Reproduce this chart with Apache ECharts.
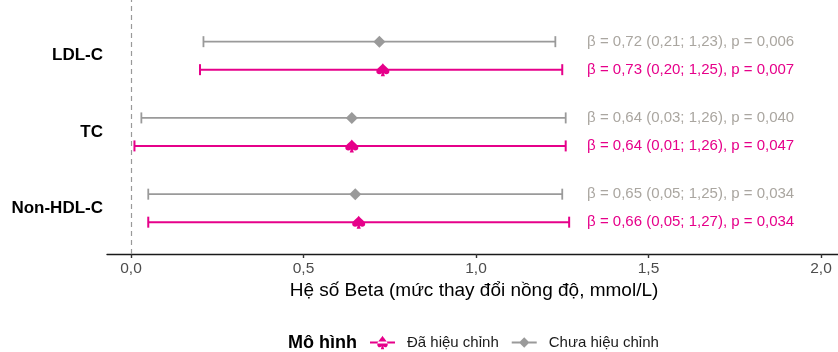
<!DOCTYPE html>
<html>
<head>
<meta charset="utf-8">
<script src="https://cdn.jsdelivr.net/npm/echarts@6/dist/echarts.min.js"></script>
<style>
  html, body { margin: 0; padding: 0; background: #fff; }
  #chart { width: 838px; height: 352px; }
</style>
</head>
<body>
<div id="chart"></div>
<script>
// Outcomes (top to bottom) and their row positions on the value y axis
const categories = ['LDL-C', 'TC', 'Non-HDL-C'];
const rowPos = [3, 2, 1];

// Adjusted model: estimate, 95% CI, p-value
const adjEst = [0.73, 0.64, 0.66];
const adjLo  = [0.20, 0.01, 0.05];
const adjHi  = [1.25, 1.26, 1.27];
const adjP   = ['0,007', '0,047', '0,034'];

// Unadjusted model
const crudeEst = [0.72, 0.64, 0.65];
const crudeLo  = [0.21, 0.03, 0.05];
const crudeHi  = [1.23, 1.26, 1.25];
const crudeP   = ['0,006', '0,040', '0,034'];

const xTicks = [0, 0.5, 1.0, 1.5, 2.0];

const PINK = '#e6008a';
const GREY_LINE = '#9a9a9a';
const GREY_TEXT = '#aaa6a0';
const LABEL_X = 1.322;   // x (in beta units) where the annotation text starts
const FONT = '"Liberation Sans", Arial, sans-serif';

const fmt = (v, d) => v.toFixed(d).replace('.', ',');

function rows(est, lo, hi, p) {
  return est.map((e, i) => [e, lo[i], hi[i], rowPos[i],
    'β = ' + fmt(e, 2) + ' (' + fmt(lo[i], 2) + '; ' + fmt(hi[i], 2) + '), p = ' + p[i]]);
}

// spade outline in a 100 x 100 box, transformed to (ox, oy) with scale (sx, sy)
function spadePath(ox, oy, sx, sy) {
  const P = (x, y) => (ox + x * sx).toFixed(1) + ' ' + (oy + y * sy).toFixed(1);
  return 'M' + P(50, 0) + ' C' + P(38, 22) + ' ' + P(0, 38) + ' ' + P(0, 64) +
    ' C' + P(0, 84) + ' ' + P(24, 92) + ' ' + P(42, 78) +
    ' L' + P(34, 100) + ' L' + P(66, 100) + ' L' + P(58, 78) +
    ' C' + P(76, 92) + ' ' + P(100, 84) + ' ' + P(100, 64) +
    ' C' + P(100, 38) + ' ' + P(62, 22) + ' ' + P(50, 0) + ' Z';
}
const SPADE = spadePath(0, 0, 1, 1);

function makeRender(color, textColor, dy, marker, lw) {
  return function (params, api) {
    const y = api.value(3);
    const c = api.coord([api.value(0), y]);
    const l = api.coord([api.value(1), y]);
    const h = api.coord([api.value(2), y]);
    const t = api.coord([LABEL_X, y]);
    const py = c[1] + dy;
    const cap = 5.5;
    const st = { stroke: color, lineWidth: lw };
    const children = [
      { type: 'line', shape: { x1: l[0], y1: py, x2: h[0], y2: py }, style: st },
      { type: 'line', shape: { x1: l[0], y1: py - cap, x2: l[0], y2: py + cap }, style: st },
      { type: 'line', shape: { x1: h[0], y1: py - cap, x2: h[0], y2: py + cap }, style: st }
    ];
    if (marker === 'spade') {
      children.push({ type: 'path', shape: { pathData: SPADE, x: c[0] - 6.5, y: py - 7.5, width: 13, height: 15 }, style: { fill: color } });
    } else {
      const r = 6;
      children.push({ type: 'polygon', shape: { points: [[c[0], py - r], [c[0] + r, py], [c[0], py + r], [c[0] - r, py]] }, style: { fill: color } });
    }
    children.push({ type: 'text', x: t[0], y: py,
      style: { text: api.value(4), fill: textColor, font: '15px ' + FONT, textVerticalAlign: 'middle', textAlign: 'left' } });
    return { type: 'group', children };
  };
}

// legend icons: a short line with the marker in the middle (240 x 130 box)
const LEG_LINE = 'M0 55 L240 55 L240 75 L0 75 Z ';
const ICON_SPADE = 'path://' + LEG_LINE + spadePath(70, 0, 1, 1.3);
const ICON_DIAMOND = 'path://' + LEG_LINE + 'M120 15 L170 65 L120 115 L70 65 Z';

const chart = echarts.init(document.getElementById('chart'), null, { renderer: 'canvas' });
chart.setOption({
  animation: false,
  backgroundColor: '#ffffff',
  grid: { left: 107, right: 0, top: 0, height: 254 },
  xAxis: {
    type: 'value', min: -0.0696, max: 2.0493,
    splitLine: { show: false },
    axisLine: { show: true, lineStyle: { color: '#1a1a1a', width: 1.4 } },
    axisTick: { show: true, customValues: xTicks, length: 4, lineStyle: { color: '#333', width: 1.4 } },
    axisLabel: { customValues: xTicks, formatter: v => fmt(v, 1), color: '#4d4d4d', fontSize: 15.5, margin: 7,
      fontFamily: FONT }
  },
  yAxis: {
    type: 'value', min: 0.399, max: 3.73,
    splitLine: { show: false },
    axisLine: { show: false }, axisTick: { show: false },
    axisLabel: { customValues: rowPos, formatter: v => categories[rowPos.indexOf(Math.round(v))] || '',
      color: '#000', fontWeight: 'bold', fontSize: 17, margin: 4, fontFamily: FONT }
  },
  legend: {
    left: 370, top: 335, padding: 0, itemWidth: 25, itemHeight: 14, itemGap: 13,
    textStyle: { fontSize: 15, color: '#1a1a1a', fontFamily: FONT, padding: [0, 0, 0, 7] },
    data: [
      { name: 'Đã hiệu chỉnh', icon: ICON_SPADE, itemStyle: { color: PINK } },
      { name: 'Chưa hiệu chỉnh', icon: ICON_DIAMOND, itemStyle: { color: GREY_LINE } }
    ]
  },
  graphic: [
    { type: 'text', x: 288, y: 343,
      style: { text: 'Mô hình', font: 'bold 18px ' + FONT, fill: '#000', textVerticalAlign: 'middle' } },
    { type: 'text', x: 474, y: 291,
      style: { text: 'Hệ số Beta (mức thay đổi nồng độ, mmol/L)', font: '19px ' + FONT, fill: '#000',
        textAlign: 'center', textVerticalAlign: 'middle' } }
  ],
  series: [
    {
      name: 'Chưa hiệu chỉnh', type: 'custom', color: GREY_LINE,
      renderItem: makeRender(GREY_LINE, GREY_TEXT, -14, 'diamond', 1.8),
      encode: { x: [0, 1, 2], y: 3 },
      data: rows(crudeEst, crudeLo, crudeHi, crudeP),
      markLine: { silent: true, symbol: 'none', label: { show: false },
        lineStyle: { color: '#999', type: [5, 4], width: 1.2 }, data: [{ xAxis: 0 }] }
    },
    {
      name: 'Đã hiệu chỉnh', type: 'custom', color: PINK,
      renderItem: makeRender(PINK, PINK, 14, 'spade', 2),
      encode: { x: [0, 1, 2], y: 3 },
      data: rows(adjEst, adjLo, adjHi, adjP)
    }
  ]
});
</script>
</body>
</html>
